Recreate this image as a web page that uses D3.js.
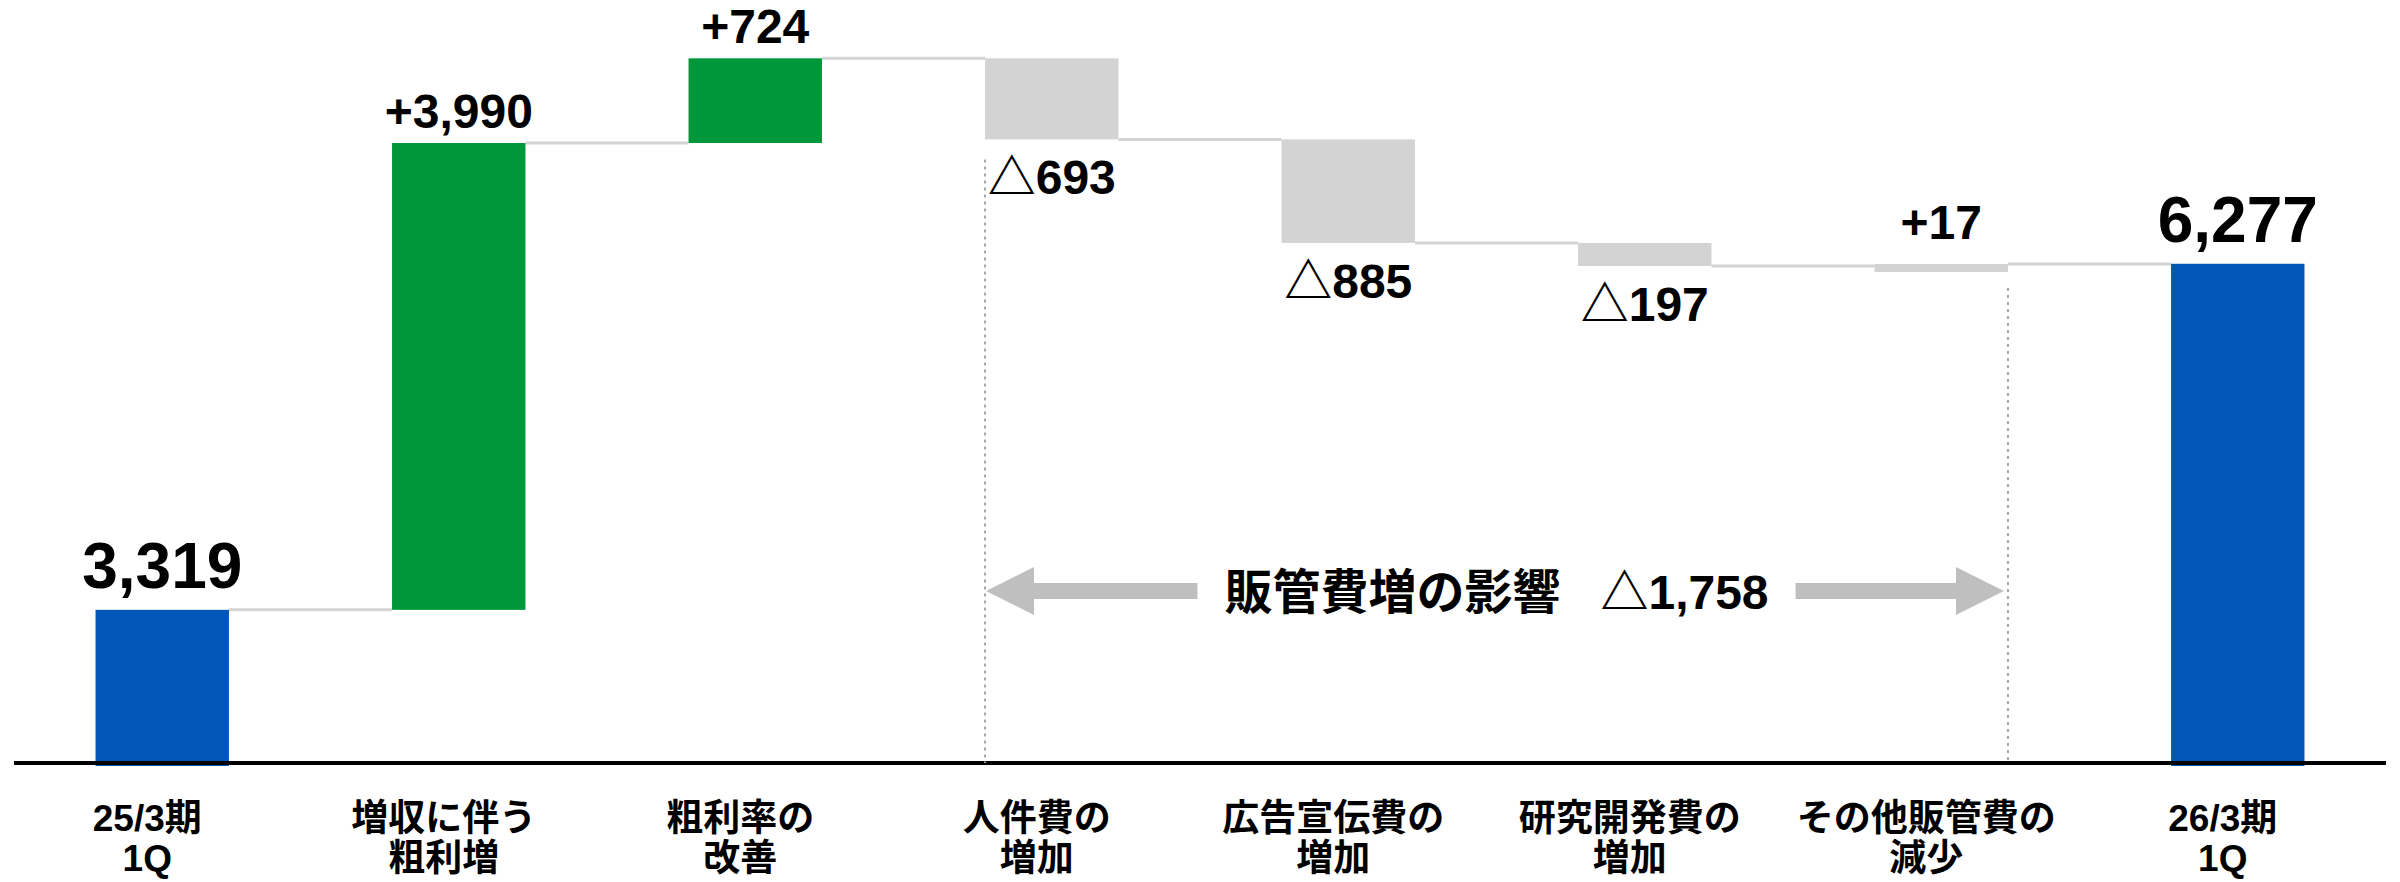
<!DOCTYPE html>
<html>
<head>
<meta charset="utf-8">
<script src="https://cdn.jsdelivr.net/npm/d3@7"></script>
<style>
  body { margin: 0; background: #fff; }
  text { font-family: "Liberation Sans", Arial, "Noto Sans CJK JP", sans-serif; font-weight: bold; fill: #000; }
</style>
</head>
<body>
<div id="chart"></div>
<script>
// data
var catLine1 = ["25/3期", "増収に伴う", "粗利率の", "人件費の", "広告宣伝費の", "研究開発費の", "その他販管費の", "26/3期"];
var catLine2 = ["1Q", "粗利増", "改善", "増加", "増加", "増加", "減少", "1Q"];
var values = [3319, 3990, 724, -693, -885, -197, 17, 6277];
var kinds = ["total", "up", "up", "cost", "cost", "cost", "cost", "total"];
var valueLabels = ["3,319", "+3,990", "+724", "△693", "△885", "△197", "+17", "6,277"];
var bracketText = "販管費増の影響\u00a0\u00a0\u00a0△1,758";
var bracketFrom = 3, bracketTo = 6;   // first and last SG&A bars

var width = 2400, height = 882;
var colors = { total: "#0057b7", up: "#00963a", cost: "#d3d3d3" };

var svg = d3.select("#chart").append("svg")
  .attr("xmlns", "http://www.w3.org/2000/svg")
  .attr("width", width)
  .attr("height", height);

var x = d3.scaleBand()
  .domain(d3.range(values.length))
  .range([14, 2386])
  .paddingInner(0.55)
  .paddingOuter(0.275);

// truncated axis: baseline does not sit at zero
var y = d3.scaleLinear()
  .domain([2010, 8040])
  .range([763, 57.5]);

// running totals
var bars = [];
var run = 0;
values.forEach(function(v, i) {
  var b = { i: i, kind: kinds[i], label: valueLabels[i] };
  if (kinds[i] === "total") {
    b.start = y.domain()[0]; b.end = v; run = v;
  } else {
    b.start = run; b.end = run + v; run = run + v;
  }
  var top = y(Math.max(b.start, b.end));
  var bottom = y(Math.min(b.start, b.end));
  if (kinds[i] === "total") bottom = 766;
  if (bottom - top < 8) bottom = top + 8;
  b.top = top; b.bottom = bottom;
  b.level = b.end;
  bars.push(b);
});

// connectors
var links = bars.slice(0, -1).map(function(b, i) {
  return { x1: x(i) + x.bandwidth(), x2: x(i + 1), y: y(b.level) };
});
svg.selectAll("line.link").data(links).enter().append("line")
  .attr("class", "link")
  .attr("x1", function(d) { return d.x1; })
  .attr("x2", function(d) { return d.x2; })
  .attr("y1", function(d) { return d.y; })
  .attr("y2", function(d) { return d.y; })
  .attr("stroke", "#d3d3d3")
  .attr("stroke-width", 3);

svg.selectAll("rect.bar").data(bars).enter().append("rect")
  .attr("class", "bar")
  .attr("x", function(d) { return x(d.i); })
  .attr("width", x.bandwidth())
  .attr("y", function(d) { return d.top; })
  .attr("height", function(d) { return d.bottom - d.top; })
  .attr("fill", function(d) { return colors[d.kind]; });

// baseline
svg.append("line")
  .attr("x1", x.range()[0]).attr("x2", x.range()[1])
  .attr("y1", y(y.domain()[0])).attr("y2", y(y.domain()[0]))
  .attr("stroke", "#000")
  .attr("stroke-width", 4);

// value labels
svg.selectAll("text.val").data(bars).enter().append("text")
  .attr("class", "val")
  .attr("text-anchor", "middle")
  .attr("x", function(d) { return x(d.i) + x.bandwidth() / 2; })
  .attr("y", function(d) {
    if (d.kind === "total") return d.top - 22;
    if (d.end >= d.start) return d.top - (d.bottom - d.top < 20 ? 25 : 15);
    return d.bottom + 55;
  })
  .attr("font-size", function(d) { return d.kind === "total" ? "64px" : "48px"; })
  .text(function(d) { return d.label; });

// category labels
var cats = svg.selectAll("g.cat").data(bars).enter().append("g")
  .attr("class", "cat")
  .attr("transform", function(d) { return "translate(" + (x(d.i) + x.bandwidth() / 2 - 15) + ",0)"; });
cats.append("text").attr("text-anchor", "middle").attr("y", 831).attr("font-size", "37px")
  .text(function(d) { return catLine1[d.i]; });
cats.append("text").attr("text-anchor", "middle").attr("y", 871).attr("font-size", "37px")
  .text(function(d) { return catLine2[d.i]; });

// SG&A bracket: dotted guides + double arrow
var gx1 = x(bracketFrom), gx2 = x(bracketTo) + x.bandwidth();
var guides = [
  { x: gx1, y: bars[bracketFrom].bottom + 20 },
  { x: gx2, y: bars[bracketTo].bottom + 16 }
];
svg.selectAll("line.guide").data(guides).enter().append("line")
  .attr("class", "guide")
  .attr("x1", function(d) { return d.x; }).attr("x2", function(d) { return d.x; })
  .attr("y1", function(d) { return d.y; }).attr("y2", y(y.domain()[0]))
  .attr("stroke", "#a6a6a6")
  .attr("stroke-width", 2)
  .attr("stroke-dasharray", "3,4");

var ay = 591, mid = (gx1 + gx2) / 2;
var label = svg.append("text")
  .attr("text-anchor", "middle")
  .attr("x", mid).attr("y", 609)
  .attr("font-size", "48px")
  .text(bracketText);
var tw = label.node().getComputedTextLength();
var gap = 27, head = 48, headH = 24, shaft = 8;

function arrow(tip, tail) {
  var dir = tail > tip ? 1 : -1;
  var back = tip + dir * head;
  return d3.line()([
    [tip, ay], [back, ay - headH], [back, ay - shaft], [tail, ay - shaft],
    [tail, ay + shaft], [back, ay + shaft], [back, ay + headH]
  ]) + "Z";
}
svg.append("path").attr("d", arrow(gx1 + 1, mid - tw / 2 - gap)).attr("fill", "#bfbfbf");
svg.append("path").attr("d", arrow(gx2 - 4, mid + tw / 2 + gap)).attr("fill", "#bfbfbf");
</script>
</body>
</html>
